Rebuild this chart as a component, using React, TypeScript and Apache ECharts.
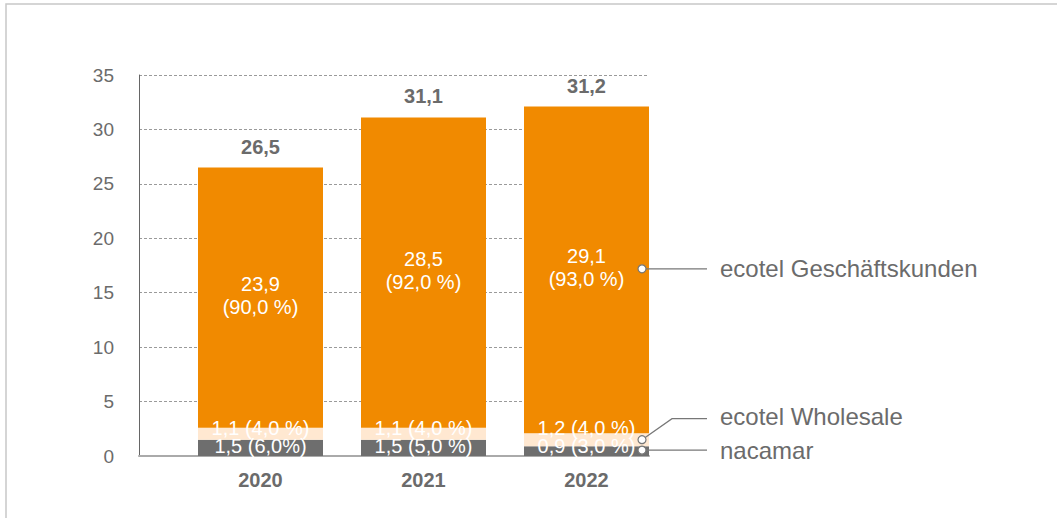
import React, { useEffect, useRef } from "react";
import * as echarts from "echarts";

const years = ["2020", "2021", "2022"];
const nacamar = [1.5, 1.5, 0.9];
const wholesale = [1.1, 1.1, 1.2];
const geschaeftskunden = [23.9, 28.5, 30.0];
const nacamarLabels = ["1,5 (6,0%)", "1,5 (5,0 %)", "0,9 (3,0 %)"];
const wholesaleLabels = ["1,1 (4,0 %)", "1,1 (4,0 %)", "1,2 (4,0 %)"];
const gkLabels = ["23,9\n(90,0 %)", "28,5\n(92,0 %)", "29,1\n(93,0 %)"];
const totalLabels = ["26,5", "31,1", "31,2"];
const seriesNames = ["ecotel Geschäftskunden", "ecotel Wholesale", "nacamar"];
const yMin = 0;
const yMax = 35;
const yInterval = 5;

const FONT = "Arial, 'Liberation Sans', Helvetica, sans-serif";
const TEXT = "#6b6b6b";
const ORANGE = "#F18A00";
const LIGHT = "#FFE8D1";
const GRAY = "#6E6E6E";
const BAR_W = 125;

export default function App() {
  const ref = useRef<HTMLDivElement>(null);
  useEffect(() => {
    document.body.style.margin = "0";
    if (!ref.current) return;
    const chart = echarts.init(ref.current, undefined, { renderer: "svg" });
    const gridTop = 75;
    const gridH = 381;
    const pxPerUnit = gridH / (yMax - yMin);
    const axisTop = 60;
    const axisMax = yMax + (gridTop - axisTop) / pxPerUnit;
    const labelLevel = nacamar[0] + wholesale[0];

    chart.setOption({
      animation: false,
      textStyle: { fontFamily: FONT },
      grid: [
        { left: 139, top: gridTop, width: 510, height: gridH },
        { left: 179, top: gridTop, width: 489, height: gridH },
      ],
      xAxis: [
        {
          gridIndex: 0,
          type: "value",
          min: 0,
          max: 1,
          axisLine: { show: true, lineStyle: { color: "#aaaaaa", width: 2 } },
          axisTick: { show: false },
          axisLabel: { show: false },
          splitLine: { show: false },
        },
        {
          gridIndex: 1,
          type: "category",
          data: years,
          axisLine: { show: false },
          axisTick: { show: false },
          axisLabel: {
            margin: 14,
            fontSize: 20,
            fontWeight: "bold",
            color: TEXT,
            fontFamily: FONT,
          },
        },
      ],
      yAxis: [
        {
          gridIndex: 0,
          type: "value",
          min: yMin,
          max: yMax,
          interval: yInterval,
          axisLine: { show: false },
          axisTick: { show: false },
          axisLabel: {
            fontSize: 19,
            color: TEXT,
            margin: 25,
            padding: [0, 0, 8, 0],
            fontFamily: FONT,
          },
          splitLine: {
            show: true,
            lineStyle: { color: "#9a9a9a", type: [3, 2], width: 1 },
          },
        },
        {
          gridIndex: 0,
          type: "value",
          position: "left",
          min: yMin,
          max: axisMax,
          axisLine: { show: true, lineStyle: { color: "#666666", width: 1 } },
          axisTick: { show: false },
          axisLabel: { show: false },
          splitLine: { show: false },
        },
        {
          gridIndex: 1,
          type: "value",
          min: yMin,
          max: yMax,
          show: false,
          splitLine: { show: false },
        },
      ],
      series: [
        {
          name: seriesNames[2],
          type: "bar",
          stack: "s",
          xAxisIndex: 1,
          yAxisIndex: 2,
          barWidth: BAR_W,
          data: nacamar,
          itemStyle: { color: GRAY },
          label: {
            show: true,
            position: "insideBottom",
            distance: 0,
            color: "#ffffff",
            fontSize: 20,
            fontFamily: FONT,
            formatter: (p: any) => nacamarLabels[p.dataIndex],
          },
        },
        {
          name: seriesNames[1],
          type: "bar",
          stack: "s",
          xAxisIndex: 1,
          yAxisIndex: 2,
          barWidth: BAR_W,
          data: wholesale.map((v, i) => {
            const top = nacamar[i] + v;
            const off = top < labelLevel ? (top - labelLevel) * pxPerUnit : 0;
            return { value: v, label: { offset: [0, off] } };
          }),
          itemStyle: { color: LIGHT },
          label: {
            show: true,
            position: "top",
            distance: -10,
            color: "#ffffff",
            fontSize: 20,
            fontFamily: FONT,
            formatter: (p: any) => wholesaleLabels[p.dataIndex],
          },
        },
        {
          name: seriesNames[0],
          type: "bar",
          stack: "s",
          xAxisIndex: 1,
          yAxisIndex: 2,
          barWidth: BAR_W,
          data: geschaeftskunden,
          itemStyle: { color: ORANGE },
          label: {
            show: true,
            position: "inside",
            offset: [0, -2],
            color: "#ffffff",
            fontSize: 20,
            lineHeight: 23,
            fontFamily: FONT,
            formatter: (p: any) => gkLabels[p.dataIndex],
          },
        },
        {
          name: "total",
          type: "bar",
          stack: "s",
          xAxisIndex: 1,
          yAxisIndex: 2,
          barWidth: BAR_W,
          data: years.map(() => 0),
          itemStyle: { color: "transparent" },
          label: {
            show: true,
            position: "top",
            distance: 11,
            color: TEXT,
            fontSize: 20,
            fontWeight: "bold",
            fontFamily: FONT,
            formatter: (p: any) => totalLabels[p.dataIndex],
          },
        },
      ],
    });

    const last = years.length - 1;
    const toPx = (v: number) =>
      chart.convertToPixel({ xAxisIndex: 1, yAxisIndex: 2 }, [last, v]) as number[];
    const cx = toPx(0)[0];
    const ax = cx + BAR_W / 2 - 7;
    const gkY = toPx(nacamar[last] + wholesale[last] + geschaeftskunden[last] / 2)[1] - 1;
    const whY = toPx(nacamar[last] + wholesale[last] / 2)[1];
    const naY = toPx(nacamar[last] / 2)[1] - 1;
    const lineStyle = { stroke: "#777777", lineWidth: 1.2, fill: "none" };
    const circleStyle = { fill: "#ffffff", stroke: "#777777", lineWidth: 1.2 };
    const textStyle = (t: string, y: number) => ({
      type: "text",
      z: 100,
      x: ax + 78,
      y,
      style: {
        text: t,
        fill: TEXT,
        font: `24px ${FONT}`,
        verticalAlign: "middle",
        align: "left",
      },
    });
    const bendY = whY - 21;

    chart.setOption({
      graphic: [
        {
          type: "rect",
          z: 100,
          shape: { x: 6, y: 4, width: 1300, height: 1000 },
          style: { fill: "none", stroke: "#c8c8c8", lineWidth: 1.5 },
          silent: true,
        },
        { type: "line", z: 100, shape: { x1: ax, y1: gkY, x2: ax + 65, y2: gkY }, style: lineStyle },
        {
          type: "polyline",
          z: 100,
          shape: { points: [[ax, whY], [ax + 30, bendY], [ax + 65, bendY]] },
          style: lineStyle,
        },
        { type: "line", z: 100, shape: { x1: ax, y1: naY, x2: ax + 65, y2: naY }, style: lineStyle },
        { type: "circle", z: 101, shape: { cx: ax, cy: gkY, r: 4 }, style: circleStyle },
        { type: "circle", z: 101, shape: { cx: ax, cy: whY, r: 4 }, style: circleStyle },
        { type: "circle", z: 101, shape: { cx: ax, cy: naY, r: 4 }, style: circleStyle },
        textStyle(seriesNames[0], gkY),
        textStyle(seriesNames[1], bendY - 2),
        textStyle(seriesNames[2], naY),
      ],
    });

    return () => chart.dispose();
  }, []);
  return <div ref={ref} style={{ width: 1057, height: 518 }} />;
}
